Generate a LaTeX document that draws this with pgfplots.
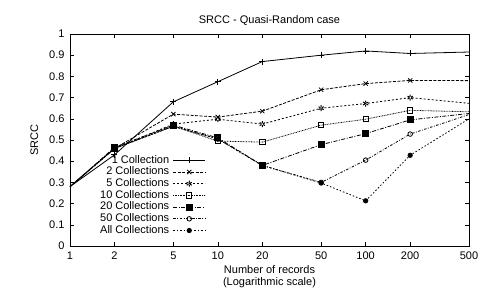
\documentclass[border=0pt]{standalone}
\usepackage{pgfplots}
\pgfplotsset{compat=1.18}
\usepackage{fontspec}
\setmainfont{Liberation Sans}
\begin{document}
\begin{tikzpicture}
\begin{axis}[
  scale only axis, width=399pt, height=212pt,
  xmode=log, xmin=1, xmax=500, ymin=0, ymax=1,
  xtick={1,2,5,10,20,50,100,200,500},
  xticklabels={1,2,5,10,20,50,100,200,500},
  ytick={0,0.1,...,1.0},
  yticklabels={0,0.1,0.2,0.3,0.4,0.5,0.6,0.7,0.8,0.9,1},
  minor xtick={}, 
  tick align=inside, tick style={black, line width=0.5pt},
  major tick length=4pt,
  axis line style={line width=0.7pt},
  every tick label/.style={font=\fontsize{11}{13}\selectfont},
  x tick label style={yshift=-2pt},
  y tick label style={xshift=-2pt},
  title={SRCC - Quasi-Random case},
  title style={font=\fontsize{11}{13}\selectfont, yshift=-1pt},
  xlabel={Number of records\\(Logarithmic scale)},
  xlabel style={align=center, font=\fontsize{11}{12.5}\selectfont, yshift=1pt},
  ylabel={SRCC},
  ylabel style={font=\fontsize{11}{13}\selectfont, yshift=4pt},
  legend plot pos=right,
  legend cell align=right,
  legend style={draw=none, fill=none, at={(0.348,0.035)}, anchor=south east,
    font=\fontsize{11}{13}\selectfont,
    nodes={text height=8pt, text depth=2.5pt, inner sep=0.6pt},
    row sep=0pt, column sep=3pt},
  legend image code/.code={\draw[#1, mark indices={2}] plot coordinates {(0pt,0pt)(16pt,0pt)(32pt,0pt)};},
  every axis plot/.append style={black, line width=0.8pt, mark options={solid}},
]
\addplot[solid, mark=+, mark size=3pt, mark indices={2,...,8}] coordinates {
(1,0.28)(2,0.43)(5,0.68)(10,0.775)(20,0.87)(50,0.90)(100,0.92)(200,0.908)(500,0.915)};
\addlegendentry{1 Collection}
\addplot[dash pattern=on 3pt off 1.5pt, mark=x, mark size=3pt, mark indices={2,...,8}] coordinates {
(1,0.28)(2,0.46)(5,0.622)(10,0.608)(20,0.636)(50,0.737)(100,0.766)(200,0.781)(500,0.78)};
\addlegendentry{2 Collections}
\addplot[dash pattern=on 2pt off 2pt, mark=asterisk, mark size=3pt, mark options={line width=1pt}, mark indices={2,...,8}] coordinates {
(1,0.28)(2,0.46)(5,0.575)(10,0.598)(20,0.575)(50,0.65)(100,0.672)(200,0.70)(500,0.673)};
\addlegendentry{5 Collections}
\addplot[dash pattern=on 0.8pt off 0.8pt, mark=square, mark size=2.6pt, mark indices={2,...,8}] coordinates {
(1,0.28)(2,0.46)(5,0.565)(10,0.495)(20,0.49)(50,0.57)(100,0.598)(200,0.64)(500,0.633)};
\addlegendentry{10 Collections}
\addplot[dash pattern=on 4pt off 1.5pt on 1pt off 1.5pt, mark=square*, mark size=3pt, mark indices={2,...,8}] coordinates {
(1,0.28)(2,0.465)(5,0.57)(10,0.51)(20,0.38)(50,0.478)(100,0.53)(200,0.595)(500,0.625)};
\addlegendentry{20 Collections}
\addplot[dash pattern=on 2.5pt off 1.5pt on 0.8pt off 1.5pt, mark=o, mark size=2.3pt, mark indices={2,...,8}] coordinates {
(1,0.28)(2,0.46)(5,0.565)(10,0.505)(20,0.38)(50,0.30)(100,0.405)(200,0.528)(500,0.62)};
\addlegendentry{50 Collections}
\addplot[dash pattern=on 1.5pt off 2pt, mark=*, mark size=2.2pt, mark indices={2,...,8}] coordinates {
(1,0.28)(2,0.46)(5,0.565)(10,0.505)(20,0.38)(50,0.297)(100,0.213)(200,0.428)(500,0.60)};
\addlegendentry{All Collections}
\end{axis}
\pgfresetboundingbox
\path (current axis.south west) ++(-70pt,-50pt) rectangle ++(481pt,296pt);
\end{tikzpicture}
\end{document}
